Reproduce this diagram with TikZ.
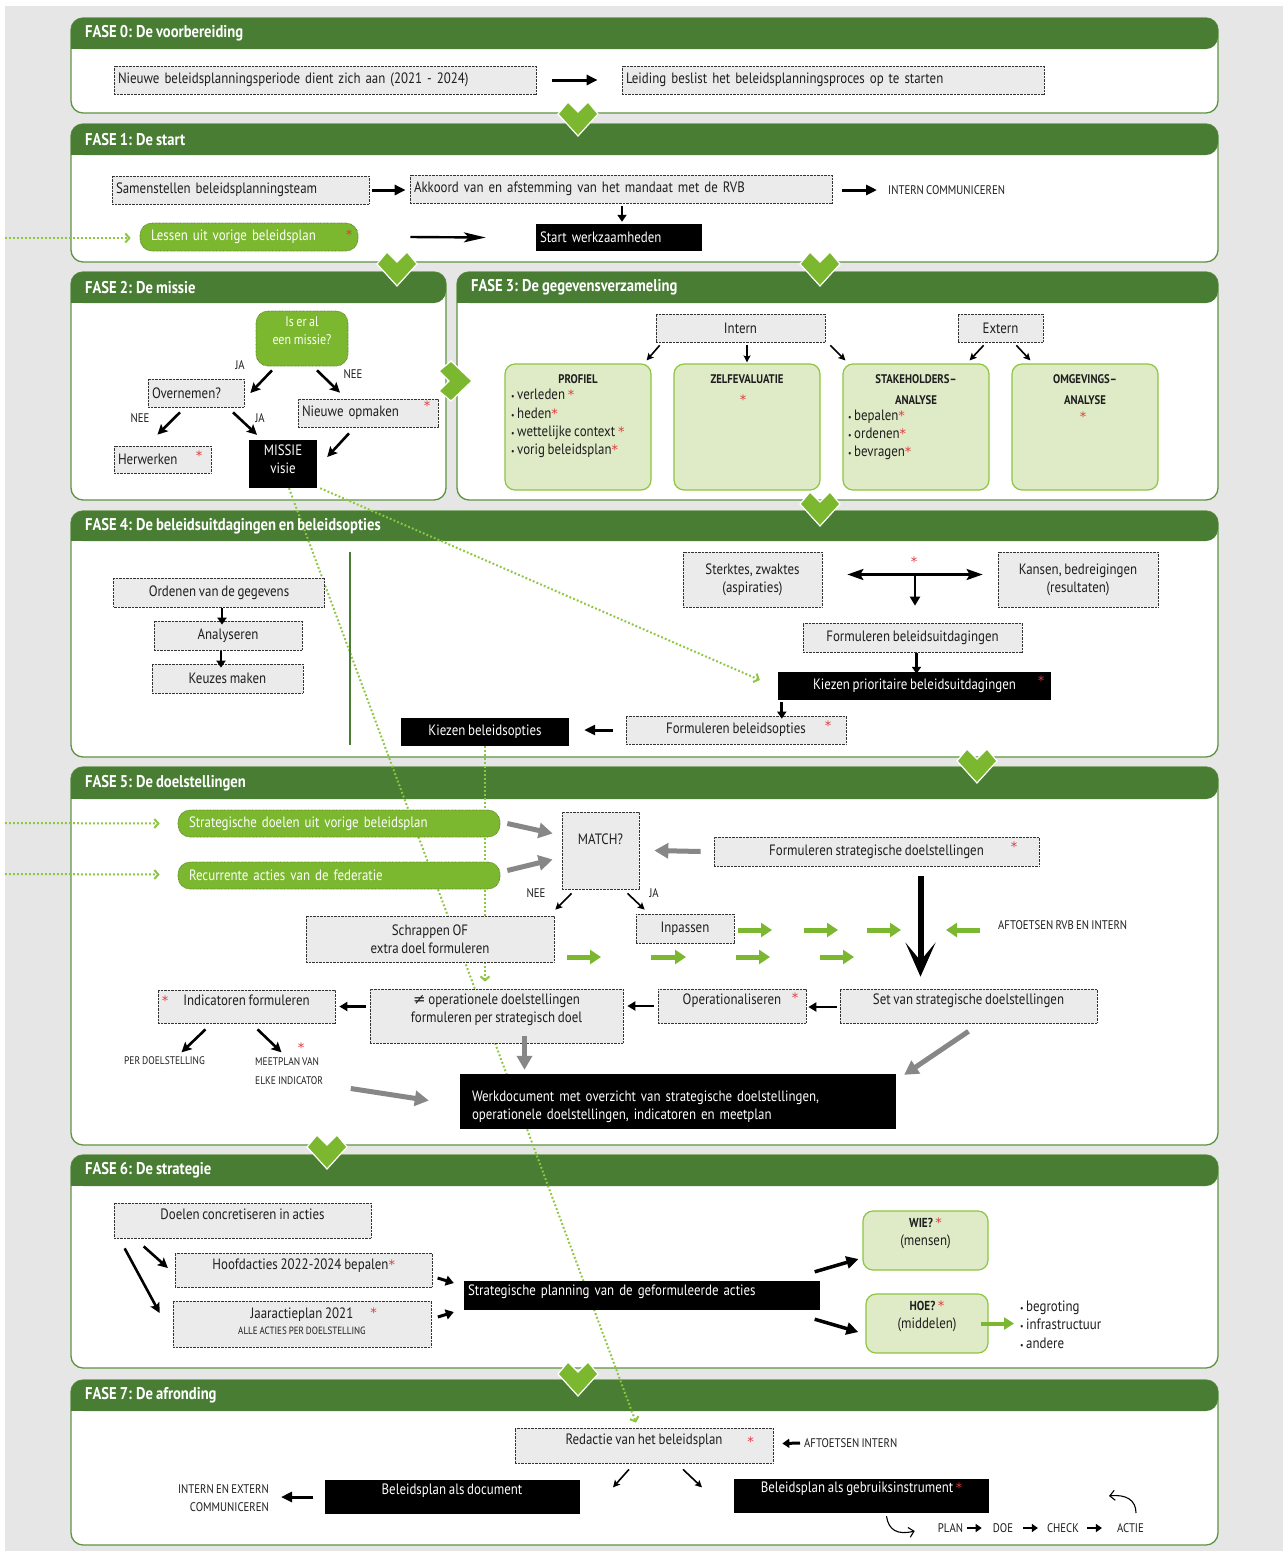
\documentclass[tikz,border=0pt]{standalone}
\usepackage{fontspec}
\setmainfont{PT Sans}[FakeStretch=0.86,WordSpace=0.8]
\newfontfamily\dvs{DejaVu Sans}
\usetikzlibrary{arrows.meta,calc}
\definecolor{hdr}{HTML}{487D33}
\definecolor{pbrd}{HTML}{5E9441}
\definecolor{lg}{HTML}{7CB82F}
\definecolor{lgd}{HTML}{8DC63F}
\definecolor{lgf}{HTML}{DFEAC7}
\definecolor{bxf}{HTML}{EBEBEB}
\definecolor{bgc}{HTML}{E6E6E6}
\definecolor{astc}{HTML}{E03A3E}
\definecolor{garr}{HTML}{878787}
\definecolor{txt}{HTML}{1E1E1E}
\pgfdeclarelayer{bg}
\pgfdeclarelayer{mid}
\pgfsetlayers{bg,mid,main}
\newcommand\fs{\fontsize{15}{18}\selectfont}
\newcommand\fcap{\fontsize{12.5}{17.5}\selectfont}
\newcommand\fsml{\fontsize{11}{19}\selectfont}
\newcommand\fhd{\fontsize{17}{20}\selectfont\bfseries}
\newcommand\fti{\fontsize{12.5}{21}\selectfont\bfseries}
\newcommand\as{{\fontsize{13}{13}\dvs\color{astc}*}}
\newcommand\bu{{\fontsize{9}{9}\selectfont\textbullet}\,}
\newcommand\fasepanel[7]{%
 \begin{pgfonlayer}{bg}
 \filldraw[fill=white,draw=pbrd,line width=1.3pt,rounded corners=12pt] (#1,#2) rectangle (#3,#4);
 \fill[hdr,rounded corners=12pt] (#1,#2) rectangle (#3,#5);
 \fill[hdr] (#1,#5) rectangle ($(#1,#5)+(14,-14)$);
 \end{pgfonlayer}
 \node[hd,anchor=west] (#7) at ($(#1,#2)!0.5!(#1,#5)+(13,0)$) {#6};}
\newcommand\chevd[2]{\filldraw[fill=lg,draw=white,line width=1.2pt] ($(#1,#2)+(-10,0)$) -- ++(10,10) -- ++(10,-10) -- ++(10,12) -- ++(-20,22) -- ++(-20,-22) -- cycle;}
\begin{document}
\begin{tikzpicture}[x=1pt,y=-1pt,
 every node/.style={inner sep=1pt,text=txt,font=\fs},
 hd/.style={text=white,font=\fhd,inner sep=1pt},
 sz/.style 2 args={minimum width=#1pt,minimum height=#2pt},
 lft/.style={align=left,text width=#1},
 up/.style={text depth=#1pt},
 gbox/.style={draw=black!80,dash pattern=on 0.7pt off 0.7pt,line width=0.7pt,fill=bxf,inner xsep=4pt,inner ysep=0pt,align=center},
 kbox/.style={fill=black,text=white,inner xsep=4pt,inner ysep=0pt,align=center},
 grn/.style={fill=lg,draw=lg!70!black,dash pattern=on 0.7pt off 0.7pt,line width=0.7pt,rounded corners=12pt,text=white,inner xsep=11pt,inner ysep=0pt},
 lgbox/.style={fill=lgf,draw=lgd,line width=1.2pt,rounded corners=10pt,inner sep=0pt},
 capt/.style={font=\fcap,inner sep=1pt},
 ast/.style={text=astc,font={\fontsize{13}{13}\dvs},inner sep=0pt,yshift=-3pt},
 barrow/.style={line width=3pt,-{Triangle[length=11pt,width=10pt]}},
 lbarrow/.style={line width=2.4pt,-{Stealth[length=22pt,width=10pt,inset=5pt]}},
 darrow/.style={line width=2.6pt,-{Stealth[length=10pt,width=10pt,inset=2pt]}},
 tarrow/.style={line width=1.6pt,-{Stealth[length=7pt,width=7pt,inset=1.5pt]}},
 sarrow/.style={line width=2.8pt,-{Triangle[length=7pt,width=9pt]}},
 grarrow/.style={color=garr,line width=5pt,-{Triangle[length=14pt,width=15pt]}},
 gnarrow/.style={color=lg,line width=5pt,-{Triangle[length=11pt,width=14pt]}},
 bigarrow/.style={line width=6pt,-{Stealth[length=34pt,width=30pt,inset=18pt]}},
 dotg/.style={color=lgd,line width=2pt,dash pattern=on 1.8pt off 2.2pt,-{Straight Barb[length=4pt,width=9pt,line width=2pt]}},
 carrow/.style={line width=1.1pt,-{Straight Barb[length=5pt,width=10pt,line width=1.1pt]}}]
\useasboundingbox (0,0) rectangle (1283,1551);
\begin{pgfonlayer}{bg}
\fill[bgc] (5,6) rectangle (1283,1551);
\end{pgfonlayer}
% panels
\fasepanel{71}{18}{1218}{113}{49}{FASE 0: De voorbereiding}{h0}
\fasepanel{71}{124}{1218}{262}{155}{FASE 1: De start}{h1}
\fasepanel{71}{272}{446}{500}{303}{FASE 2: De missie}{h2}
\fasepanel{457}{272}{1218}{500}{303}{FASE 3: De gegevensverzameling}{h3}
\fasepanel{71}{511}{1218}{757}{541}{FASE 4: De beleidsuitdagingen en beleidsopties}{h4}
\fasepanel{71}{767}{1218}{1145}{799}{FASE 5: De doelstellingen}{h5}
\fasepanel{71}{1155}{1218}{1368}{1186}{FASE 6: De strategie}{h6}
\fasepanel{71}{1380}{1218}{1545}{1411}{FASE 7: De afronding}{h7}
% chevrons
\chevd{578}{102}
\chevd{397}{252}
\chevd{820}{252}
\chevd{820}{492}
\chevd{977}{749}
\chevd{327}{1135}
\chevd{578}{1362}
\filldraw[fill=lg,draw=white,line width=1.2pt] (439,371) -- (449,381) -- (439,391) -- (451,401) -- (472,381) -- (451,361) -- cycle;
% ---------- FASE 0
\node[gbox,sz={422}{28},lft=414pt] (n0a) at (325,80) {Nieuwe beleidsplanningsperiode dient zich aan (2021 - 2024)};
\node[gbox,sz={422}{28},lft=414pt] (n0b) at (833,80) {Leiding beslist het beleidsplanningsproces op te starten};
\draw[barrow] ($(n0a.east)+(16,0)$) -- ($(n0b.west)+(-24,0)$);
% ---------- FASE 1
\node[gbox,sz={257}{28},lft=249pt] (n1a) at (240.5,190) {Samenstellen beleidsplanningsteam};
\node[gbox,sz={422}{28},lft=414pt] (n1b) at (621,189) {Akkoord van en afstemming van het mandaat met de RVB};
\draw[barrow] ($(n1a.east)+(3,0)$) -- ($(n1b.west)+(-4,1)$);
\node[capt,anchor=west] (n1c) at (887,190) {INTERN COMMUNICEREN};
\draw[barrow] ($(n1b.east)+(10,1)$) -- ($(n1c.west)+(-10,0)$);
\node[kbox,sz={166}{27},lft=158pt] (n1d) at (619,237.5) {Start werkzaamheden};
\draw[sarrow] ($(n1b.south)+(1,3)$) -- ($(n1b.south |- n1d.north)+(1,-2)$);
\node[grn,sz={218}{28},lft=196pt] (n1e) at (249,237) {Lessen uit vorige beleidsplan};
\node[ast] (s1e) at (349,232) {*};
\draw[lbarrow] ($(n1e.east)+(52,0)$) -- ($(n1d.west)+(-50,0)$);
\coordinate (d1) at (5,238);
% ---------- FASE 2
\node[grn,sz={92}{55},align=center,inner xsep=4pt,up=16,font=\fontsize{14}{18}\selectfont] (n2q) at (302,338.5) {Is er al\\een missie?};
\node[capt] (l2a) at (240,365) {JA};
\node[capt] (l2b) at (353,374) {NEE};
\node[capt] (l2c) at (140,418) {NEE};
\node[capt] (l2d) at (260,418) {JA};
\node[gbox,sz={96}{28},lft=88pt] (n2o) at (196,393) {Overnemen?};
\node[gbox,sz={140}{28},lft=132pt] (n2n) at (368,413) {Nieuwe opmaken};
\node[ast] (s2n) at (427,403) {*};
\node[gbox,sz={97}{27},lft=89pt] (n2h) at (162.5,459.5) {Herwerken};
\node[ast] (s2h) at (199,453) {*};
\node[kbox,sz={68}{48},up=10] (n2m) at (283,464) {MISSIE\\visie};
\draw[darrow] ($(n2q.south)+(-30,4)$) -- ($(n2o.east)+(6,0)$);
\draw[darrow] ($(n2q.south)+(15,4)$) -- ($(n2n.north)+(-28,-6)$);
\draw[darrow] ($(n2o.south)+(-16,5)$) -- ($(n2h.north)+(-5,-11)$);
\draw[darrow] ($(n2o.south)+(37,5)$) -- ($(n2m.north)+(-26,-5)$);
\draw[darrow] ($(n2n.south)+(-19,6)$) -- ($(n2m.east)+(10,-7)$);
% ---------- FASE 3
\node[gbox,sz={169}{28}] (n3i) at (740.5,328) {Intern};
\node[gbox,sz={85}{28}] (n3e) at (1000.5,328) {Extern};
\node[lgbox,sz={146}{126}] (p3a) at (578,427) {};
\node[lgbox,sz={146}{126}] (p3b) at (747,427) {};
\node[lgbox,sz={146}{126}] (p3c) at (916,427) {};
\node[lgbox,sz={146}{126}] (p3d) at (1085,427) {};
\node[font=\fti] (t3a) at (578,379) {PROFIEL};
\node[font=\fti] (t3b) at (747,379) {ZELFEVALUATIE};
\node[font=\fti,align=center] (t3c) at (916,389.5) {STAKEHOLDERS--\\ANALYSE};
\node[font=\fti,align=center] (t3d) at (1085,389.5) {OMGEVINGS--\\ANALYSE};
\node[anchor=west,align=left,font=\fontsize{15}{18.3}\selectfont] (b3a) at (510,423.5) {\bu verleden \as\\\bu heden\as\\\bu wettelijke context \as\\\bu vorig beleidsplan\as};
\node[ast] (s3b) at (743,397) {*};
\node[anchor=west,align=left,font=\fontsize{15}{18.3}\selectfont] (b3c) at (847,435) {\bu bepalen\as\\\bu ordenen\as\\\bu bevragen\as};
\node[ast] (s3d) at (1083,414) {*};
\draw[tarrow] ($(n3i.south west)+(4,3)$) -- ($(p3a.north east)+(-5,-3)$);
\draw[tarrow] ($(p3b.north |- n3i.south)+(0,3)$) -- ($(p3b.north)+(0,-1)$);
\draw[tarrow] ($(n3i.south east)+(5,3)$) -- ($(p3c.north west)+(3,-3)$);
\draw[tarrow] ($(n3e.south west)+(26,3)$) -- ($(p3c.north east)+(-20,-3)$);
\draw[tarrow] ($(n3e.south east)+(-27,3)$) -- ($(p3d.north west)+(19,-3)$);
% ---------- FASE 4
\node[gbox,sz={211}{29}] (n4o) at (219,592.5) {Ordenen van de gegevens};
\node[gbox,sz={148}{29}] (n4a) at (228,635.5) {Analyseren};
\node[gbox,sz={151}{29}] (n4k) at (227.5,678.5) {Keuzes maken};
\draw[sarrow] ($(n4o.south)+(3,1)$) -- ($(n4o.south |- n4a.north)+(3,4)$);
\draw[sarrow] ($(n4a.south)+(-7,1)$) -- ($(n4a.south |- n4k.north)+(-7,4)$);
\draw[hdr,line width=1.4pt] (350,552) -- (350,745);
\node[gbox,sz={139}{55}] (n4s) at (752.5,579.5) {Sterktes, zwaktes\\(aspiraties)};
\node[gbox,sz={160}{55}] (n4kb) at (1078,579.5) {Kansen, bedreigingen\\(resultaten)};
\draw[line width=2.5pt,{Stealth[length=16pt,width=11pt,inset=3pt]}-{Stealth[length=16pt,width=11pt,inset=3pt]}] ($(n4s.east)+(25,-5)$) -- ($(n4kb.west)+(-15,-5)$);
\coordinate (m4) at (915,574.5);
\node[gbox,sz={219}{29}] (n4f) at (912.5,637.5) {Formuleren beleidsuitdagingen};
\draw[line width=2.5pt,-{Triangle[length=9pt,width=10pt]}] (m4) -- ($(m4 |- n4f.north)+(0,-17)$);
\node[ast] (s4a) at (914,559) {*};
\node[kbox,sz={273}{28}] (n4p) at (914.5,686) {Kiezen prioritaire beleidsuitdagingen};
\node[ast] (s4p) at (1041,678) {*};
\draw[sarrow] ($(n4f.south)+(4,1)$) -- ($(n4f.south |- n4p.north)+(4,2)$);
\node[gbox,sz={220}{28}] (n4fo) at (736,730) {Formuleren beleidsopties};
\node[ast] (s4fo) at (828,723) {*};
\draw[sarrow] ($(n4p.south west)+(4,2)$) -- ($(n4p.south west |- n4fo.north)+(4,3)$);
\node[kbox,sz={168}{28}] (n4kbo) at (485,732) {Kiezen beleidsopties};
\draw[barrow] ($(n4fo.west)+(-13,0)$) -- ($(n4kbo.east |- n4fo.west)+(15,0)$);
% ---------- FASE 5
\node[grn,sz={322}{27},lft=300pt] (n5s) at (339,823.5) {Strategische doelen uit vorige beleidsplan};
\node[grn,sz={322}{27},lft=300pt] (n5r) at (339,875.5) {Recurrente acties van de federatie};
\coordinate (d2) at (5,823);
\coordinate (d3) at (5,874);
\node[gbox,sz={77}{77},up=23] (n5m) at (600.5,850.5) {MATCH?};
\draw[grarrow] ($(n5s.east)+(7,0)$) -- ($(n5m.west)+(-9,-17)$);
\draw[grarrow] ($(n5r.east)+(7,-5)$) -- ($(n5m.west)+(-9,9)$);
\node[gbox,sz={325}{29}] (n5f) at (876.5,851.5) {Formuleren strategische doelstellingen};
\node[ast] (s5f) at (1014,844) {*};
\draw[grarrow] ($(n5f.west)+(-13,0)$) -- ($(n5m.east)+(15,0)$);
\node[gbox,sz={257}{34},up=13] (n5set) at (968.5,1006) {Set van strategische doelstellingen};
\draw[bigarrow] ($(n5f.south)+(44,10)$) -- ($(n5set.north)+(-48,-12)$);
\node[capt] (l5a) at (536,893) {NEE};
\node[capt] (l5b) at (654,893) {JA};
\node[gbox,sz={248}{46}] (n5sc) at (430,939) {Schrappen OF\\extra doel formuleren};
\node[gbox,sz={98}{29}] (n5in) at (685,928.5) {Inpassen};
\draw[tarrow] ($(n5m.south)+(-29,4)$) -- ($(n5sc.north east)+(1,-6)$);
\draw[tarrow] ($(n5m.south)+(27,4)$) -- ($(n5in.north west)+(9,-4)$);
\draw[gnarrow] (738,930) -- (772,930);
\draw[gnarrow] (804,930) -- (838,930);
\draw[gnarrow] (867,930) -- (901,930);
\draw[gnarrow] (980,930) -- (946,930);
\draw[gnarrow] (567,957) -- (601,957);
\draw[gnarrow] (651,957) -- (686,957);
\draw[gnarrow] (736,957) -- (770,957);
\draw[gnarrow] (820,957) -- (854,957);
\node[capt,anchor=west] (n5af) at (997,925) {AFTOETSEN RVB EN INTERN};
\node[gbox,sz={148}{34},up=13] (n5op) at (732,1006) {Operationaliseren};
\node[ast] (s5op) at (795,995) {*};
\draw[line width=2.5pt,-{Triangle[length=8pt,width=9pt]}] ($(n5set.west)+(-3,1)$) -- ($(n5op.east)+(2,1)$);
\node[gbox,sz={253}{54},up=16] (n5ne) at (496.5,1016) {{\dvs ≠} operationele doelstellingen\\formuleren per strategisch doel};
\draw[line width=2.5pt,-{Triangle[length=8pt,width=9pt]}] ($(n5op.west)+(-4,0)$) -- ($(n5ne.east |- n5op.west)+(4,0)$);
\node[gbox,sz={177}{33},up=13] (n5ind) at (246.5,1006.5) {Indicatoren formuleren};
\node[ast] (s5ind) at (165,998) {*};
\draw[line width=2.5pt,-{Triangle[length=8pt,width=9pt]}] ($(n5ne.west |- n5ind.east)+(-4,0)$) -- ($(n5ind.east)+(4,0)$);
\node[capt,font=\fsml] (n5pd) at (164.5,1061) {PER DOELSTELLING};
\node[capt,font=\fsml,anchor=west,align=left] (n5mp) at (254,1071) {MEETPLAN VAN\\ELKE INDICATOR};
\node[ast] (s5mp) at (301,1045) {*};
\draw[darrow] ($(n5ind.south)+(-41,6)$) -- ($(n5ind.south)+(-65,29)$);
\draw[darrow] ($(n5ind.south)+(11,6)$) -- ($(n5ind.south)+(35,29)$);
\node[kbox,sz={436}{55},lft=412pt,inner xsep=12pt,up=11] (n5wd) at (678,1101.5) {Werkdocument met overzicht van strategische doelstellingen,\\operationele doelstellingen, indicatoren en meetplan};
\draw[grarrow] ($(n5ne.south)+(28,-7)$) -- ($(n5ne.south |- n5wd.north)+(28,-4)$);
\draw[grarrow] ($(n5wd.west)+(-109,-13)$) -- ($(n5wd.west)+(-31,-1)$);
\draw[grarrow] ($(n5set.south)+(0,8)$) -- ($(n5wd.north east)+(8,1)$);
% ---------- FASE 6
\node[gbox,sz={257}{35},up=13] (n6d) at (242.5,1220.5) {Doelen concretiseren in acties};
\node[gbox,sz={257}{34},up=11] (n6h) at (303.75,1270) {Hoofdacties 2022-2024 bepalen\as};
\node[gbox,sz={258}{46},up=5] (n6j) at (302,1324) {Jaaractieplan 2021\\[-2pt]{\fontsize{10.5}{12}\selectfont ALLE ACTIES PER DOELSTELLING}};
\node[ast] (s6j) at (373.5,1310) {*};
\draw[darrow] ($(n6d.south west)+(30,8)$) -- ($(n6h.west)+(-7,-2)$);
\draw[darrow] ($(n6d.south west)+(11,10)$) -- ($(n6j.west)+(-13,-11)$);
\node[kbox,sz={355.5}{29},lft=347.5pt,up=10] (n6s) at (641.75,1295.5) {Strategische planning van de geformuleerde acties};
\draw[line width=3pt,-{Triangle[length=8pt,width=10pt]}] ($(n6h.east)+(5,8)$) -- ($(n6s.west)+(-10,-12.5)$);
\draw[line width=3pt,-{Triangle[length=8pt,width=10pt]}] ($(n6j.east)+(6.5,-7)$) -- ($(n6s.west)+(-10,16.5)$);
\node[lgbox,sz={125}{59},align=center,up=18] (n6w) at (925.5,1240.5) {{\fontsize{13}{14}\selectfont\bfseries WIE?}\,\as\\(mensen)};
\node[lgbox,sz={122}{59},align=center,up=17] (n6ho) at (927,1323.5) {{\fontsize{13}{14}\selectfont\bfseries HOE?}\,\as\\(middelen)};
\draw[line width=3.5pt,-{Triangle[length=12pt,width=12pt]}] ($(n6s.north east)+(-5,-9)$) -- ($(n6w.west)+(-4,18.5)$);
\draw[line width=3.5pt,-{Triangle[length=12pt,width=12pt]}] ($(n6s.south east)+(-5,9)$) -- ($(n6ho.west)+(-7,8.5)$);
\node[anchor=west,align=left,font=\fontsize{15}{18.5}\selectfont] (n6b) at (1019,1324.5) {\bu begroting\\\bu infrastructuur\\\bu andere};
\draw[color=lg,line width=4pt,-{Triangle[length=10pt,width=12pt]}] ($(n6ho.east)+(-8,0)$) -- ($(n6b.west)+(-5,-1)$);
% ---------- FASE 7
\node[gbox,sz={258}{35},up=13] (n7r) at (644,1445.5) {Redactie van het beleidsplan};
\node[ast] (s7r) at (750.6,1439) {*};
\node[capt,anchor=west] (n7ai) at (803,1443) {AFTOETSEN INTERN};
\draw[line width=3pt,-{Triangle[length=7pt,width=9pt]}] ($(n7ai.west)+(-3,0)$) -- ($(n7r.east)+(9,-2)$);
\draw[tarrow] ($(n7r.south)+(-15,6)$) -- ($(n7r.south)+(-31,24)$);
\draw[tarrow] ($(n7r.south)+(39,6)$) -- ($(n7r.south)+(58,24)$);
\node[kbox,sz={255}{34},up=15] (n7d) at (452,1497) {Beleidsplan als document};
\node[capt,anchor=east,align=right] (n7ie) at (270,1498) {INTERN EN EXTERN\\COMMUNICEREN};
\draw[barrow] ($(n7d.west)+(-11,0)$) -- ($(n7ie.east)+(11,-1)$);
\node[kbox,sz={255}{34},up=17] (n7g) at (861.5,1496) {Beleidsplan als gebruiksinstrument\,\as};
\node[capt] (n7pl) at (950.5,1528) {PLAN};
\node[capt] (n7do) at (1003,1528) {DOE};
\node[capt] (n7ch) at (1063,1528) {CHECK};
\node[capt] (n7ac) at (1130.5,1528) {ACTIE};
\draw[line width=2.5pt,-{Triangle[length=6pt,width=8pt]}] ($(n7pl.east)+(3,0)$) -- ($(n7do.west)+(-10,0)$);
\draw[line width=2.5pt,-{Triangle[length=6pt,width=8pt]}] ($(n7do.east)+(9,0)$) -- ($(n7ch.west)+(-8,0)$);
\draw[line width=2.5pt,-{Triangle[length=6pt,width=8pt]}] ($(n7ch.east)+(7,0)$) -- ($(n7ac.west)+(-14,0)$);
\draw[carrow] ($(n7g.south)+(25,3)$) .. controls ($(n7g.south)+(27,17)$) and ($(n7g.south)+(36,22)$) .. ($(n7pl.west)+(-22,3)$);
\coordinate (c7) at (1136,1513);
\draw[carrow] (c7) .. controls (1136,1500) and (1126,1494) .. (1109,1496);
% ---------- dotted connectors
\begin{pgfonlayer}{mid}
\draw[dotg] (d1) -- ($(n1e.west)+(-9,1)$);
\draw[dotg] (d2) -- ($(n5s.west)+(-18,0)$);
\draw[dotg] (d3) -- ($(n5r.west)+(-18,-1)$);
\draw[dotg] ($(n2m.south)+(6,0)$) -- ($(n7r.north)+(-8,-5)$);
\draw[dotg] ($(n2m.south east)+(3,0)$) -- ($(n4p.west)+(-18,-6)$);
\draw[dotg] (n4kbo.south) -- ($(n5ne.north)+(-11.5,-7)$);
\end{pgfonlayer}
\end{tikzpicture}
\end{document}
